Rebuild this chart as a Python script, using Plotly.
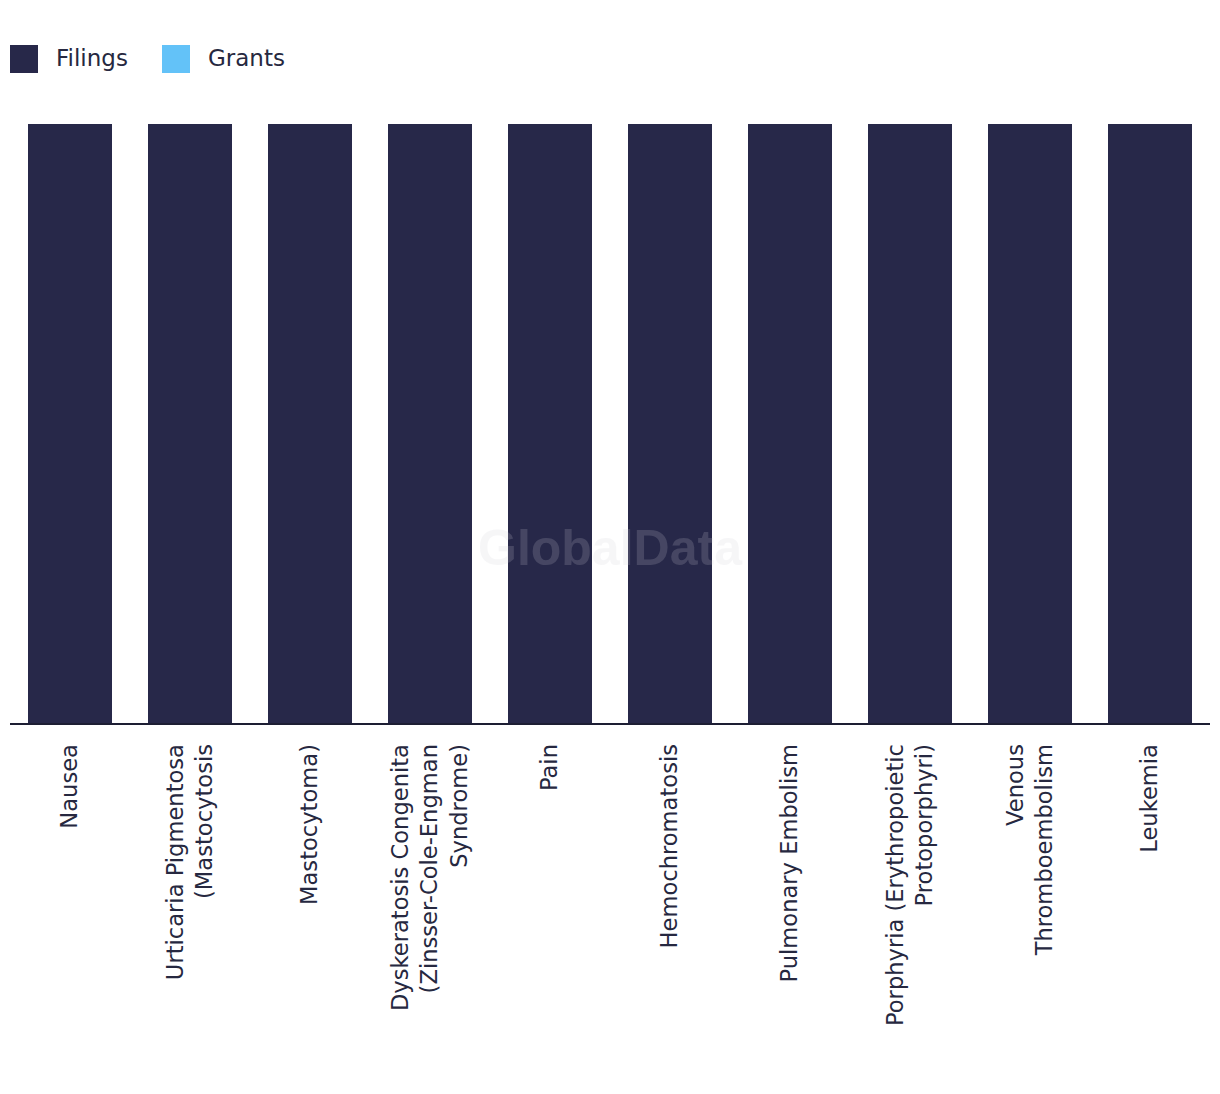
import plotly.graph_objects as go

categories = [
    "Nausea",
    "Urticaria Pigmentosa<br>(Mastocytosis",
    "Mastocytoma)",
    "Dyskeratosis Congenita<br>(Zinsser-Cole-Engman<br>Syndrome)",
    "Pain",
    "Hemochromatosis",
    "Pulmonary Embolism",
    "Porphyria (Erythropoietic<br>Protoporphyri)",
    "Venous<br>Thromboembolism",
    "Leukemia",
]
filings = [1, 1, 1, 1, 1, 1, 1, 1, 1, 1]
grants = [0, 0, 0, 0, 0, 0, 0, 0, 0, 0]

FILINGS_COLOR = "#272849"
GRANTS_COLOR = "#63C2F8"
TEXT_COLOR = "#262840"
FONT = "DejaVu Sans, Liberation Sans, Arial, sans-serif"

fig = go.Figure()
fig.add_trace(go.Bar(x=categories, y=filings, name="Filings",
                     marker=dict(color=FILINGS_COLOR, line=dict(width=0)),
                     showlegend=False))
fig.add_trace(go.Bar(x=categories, y=grants, name="Grants",
                     marker=dict(color=GRANTS_COLOR, line=dict(width=0)),
                     showlegend=False))

W, H = 1220, 1094
OFF = 8  # page offset of the figure in the browser
L, T = 10 - OFF, 124 - OFF
R = W - (1210 - OFF)
B = H - (723 - OFF)
pw, ph = W - L - R, H - T - B


def px_x(X):
    return (X - OFF - L) / pw


def px_y(Y):
    return (H - B - (Y - OFF)) / ph


shapes = []
annotations = []
legend_items = [("Filings", FILINGS_COLOR, 10, 54), ("Grants", GRANTS_COLOR, 162, 206)]
for name, color, sx, tx in legend_items:
    shapes.append(dict(type="rect", xref="paper", yref="paper",
                       x0=px_x(sx), x1=px_x(sx + 28), y0=px_y(73), y1=px_y(45),
                       fillcolor=color, line=dict(width=0)))
    annotations.append(dict(text=name, xref="paper", yref="paper",
                            x=px_x(tx), y=px_y(58), xanchor="left", yanchor="middle",
                            showarrow=False, font=dict(family=FONT, size=23, color=TEXT_COLOR)))

annotations.append(dict(text="<b>GlobalData</b>", xref="paper", yref="paper",
                        x=px_x(610), y=px_y(548), xanchor="center", yanchor="middle",
                        showarrow=False, opacity=0.18,
                        font=dict(family="Liberation Sans, Arial, sans-serif", size=50, color="#d0d0d8")))

fig.update_layout(
    width=W, height=H,
    margin=dict(l=L, r=R, t=T, b=B, autoexpand=False),
    paper_bgcolor="white", plot_bgcolor="white",
    barmode="stack", bargap=0.3,
    showlegend=False,
    shapes=shapes, annotations=annotations,
    font=dict(family=FONT, color=TEXT_COLOR),
    xaxis=dict(tickangle=-90, tickfont=dict(family=FONT, size=22.6, color=TEXT_COLOR),
               showline=True, linecolor="#1d1e33", linewidth=2,
               ticks="", ticklabelstandoff=10, showgrid=False, fixedrange=True),
    yaxis=dict(range=[0, 1], visible=False, showgrid=False, zeroline=False, fixedrange=True),
)

fig.write_html("out.html")
